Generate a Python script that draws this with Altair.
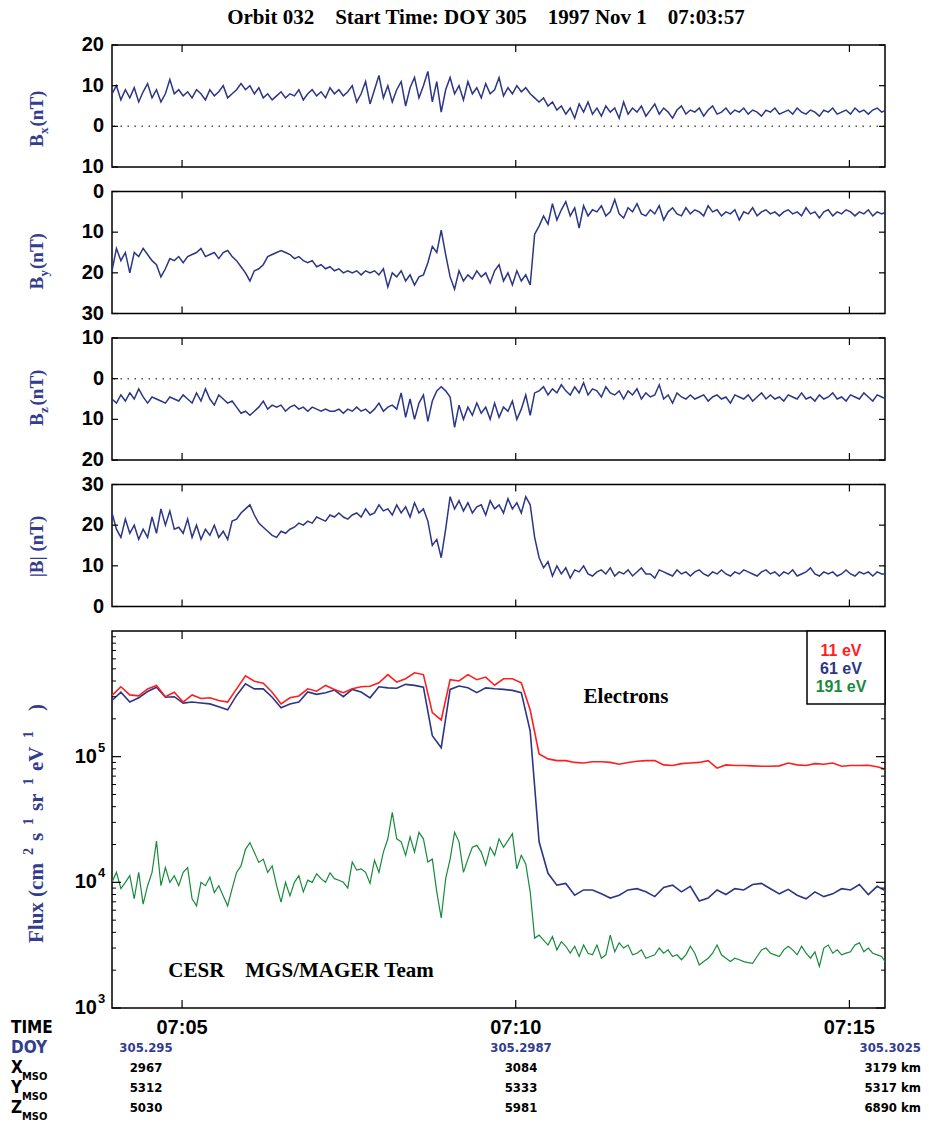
import altair as alt
import pandas as pd

# ---------------- data ----------------
T0 = 237            # first sample, seconds after 07:00:00 (07:03:57)
MAG_STEP = 4        # s
FLUX_LO_STEP = 8    # s (11 eV, 61 eV)
FLUX_HI_STEP = 4    # s (191 eV)
X_DOMAIN = [237, 932]
TIME_TICKS = [300, 600, 900]
TIME_LABELS = ["07:05", "07:10", "07:15"]

BX = [8, 10, 6.5, 9, 7, 9.5, 6, 8.5, 10.5, 7,
      9, 6, 8, 11.5, 8, 9, 7.5, 8.5, 7, 9,
      8, 6.5, 9, 7.5, 8.5, 10, 7, 8, 9, 10.5,
      9, 10, 8, 9.5, 7, 8, 6.5, 7.5, 8.5, 7,
      8, 7.5, 9, 6.5, 8, 9, 7.5, 8.5, 7, 9.5,
      8, 9, 7.5, 8.5, 10, 6, 8, 11, 5.5, 9,
      12.5, 7, 10, 6, 9, 11, 5, 9.5, 12, 7,
      10, 13.5, 6, 11, 3.5, 9, 12, 8, 10, 6.5,
      11, 8, 9.5, 7, 10.5, 8, 9, 12, 7.5, 9.5,
      8, 10, 8.5, 9.5, 8, 7, 6, 7, 5, 6,
      4, 5, 3, 4.5, 2, 5.5, 3.5, 6, 3, 4.5,
      2.5, 5, 3.5, 4.5, 2, 6, 3, 4.5, 3.5, 5,
      2.5, 4, 5.5, 3, 4.5, 3.5, 2, 4, 5, 3,
      4, 3.5, 4.5, 2.5, 4, 5, 3, 3.5, 4.5, 3,
      4, 3.5, 4.5, 3, 4, 3.5, 2.5, 4, 3.5, 4.5,
      3, 3.5, 4, 3, 4.5, 3.5, 3, 4, 3.5, 2.5,
      4, 3.5, 4.5, 3, 3.5, 4, 3, 4.5, 3.5, 4,
      3, 4, 4.5, 3.5, 4, 4]

BY = [-19.5, -14, -17, -15, -20, -15, -16, -14, -15.5, -17,
      -18, -21, -19, -16.5, -17, -16, -17.5, -16, -15.5, -15,
      -14, -16, -15.5, -15, -16.5, -15, -14.5, -16, -17, -18.5,
      -20, -22, -19.5, -19, -18, -16, -15.5, -15, -14.5, -15,
      -15.5, -16.5, -16, -17, -17.5, -17, -18.5, -18, -19, -18.5,
      -19.5, -19, -20, -19.5, -20, -19.5, -20.5, -19.5, -20, -19.5,
      -20.5, -19, -23.5, -20, -21, -19.5, -22, -20.5, -23, -21,
      -20.5, -17.5, -13.5, -15, -9.5, -15.5, -21, -24, -19.5, -22,
      -20.5, -21.5, -19.5, -21, -20, -22.5, -19.5, -18, -22, -20,
      -23, -19.5, -22, -20.5, -23, -10.5, -8.5, -6, -8, -3,
      -7, -4.5, -2.5, -6, -4, -9, -3.5, -6, -4.5, -5,
      -3.5, -6, -5, -2, -5.5, -6.5, -4, -5, -3, -5.5,
      -6, -4.5, -5.5, -3.5, -7, -5, -4, -5.5, -6, -4,
      -5.5, -4.5, -5, -6, -3.5, -5, -4.5, -6, -5, -5.5,
      -4.5, -7, -5, -5.5, -4, -6, -5, -4.5, -5.5, -5,
      -6, -5, -4.5, -5.5, -5, -6, -4, -5.5, -5, -6.5,
      -5, -4.5, -6, -5, -5.5, -4.5, -5, -6, -5, -5.5,
      -4.5, -6, -5, -5.5, -5, -6]

BZ = [-5, -6, -4, -5.5, -3.5, -5, -2.5, -4.5, -6, -4.5,
      -5, -5.5, -6, -4.5, -5, -5.5, -4, -5, -6, -3.5,
      -5.5, -2.5, -5, -6.5, -4, -5, -6, -5.5, -7, -8.5,
      -8, -9, -8, -7, -5.5, -7.5, -6.5, -7, -6.5, -8,
      -7, -6.5, -7.5, -7, -8, -7, -7.5, -8, -7.5, -8,
      -8, -7.5, -8.5, -7.5, -8, -7, -8, -7.5, -8.5, -7.5,
      -6, -8, -7, -6.5, -7.5, -3.5, -9.5, -5, -10, -6,
      -4, -10.5, -5.5, -3, -2, -3, -4.5, -12, -6.5, -10,
      -7, -9, -6, -8.5, -7, -10, -6, -9.5, -7, -8,
      -5.5, -10, -7.5, -4, -9, -3.5, -3, -2, -4, -2.5,
      -3.5, -1.5, -3, -4, -2, -3.5, -1, -4, -2.5, -3,
      -4.5, -2, -3.5, -4, -3, -5, -3, -4, -2.5, -5,
      -3.5, -4.5, -4, -1.5, -5, -4, -6, -3.5, -4.5, -5,
      -4, -5, -4.5, -4, -5.5, -4.5, -4, -5, -4.5, -6,
      -4, -4.5, -5, -4, -5.5, -4.5, -3.5, -5, -4, -5,
      -4.5, -5.5, -4, -4.5, -5, -3.5, -5, -4.5, -5.5, -4,
      -5, -4.5, -3.5, -5, -4.5, -5.5, -4, -4.5, -5, -3.5,
      -4.5, -5.5, -4, -4.5, -5, -4]

BTOT = [23, 19, 17, 21.5, 18, 20, 16.5, 19, 17, 22,
        18, 24, 20, 23.5, 19, 19.5, 18, 21.5, 17, 20,
        16.5, 19, 17.5, 20, 17, 18.5, 16.5, 21, 21.5, 23,
        24, 25, 22.5, 20.5, 19.5, 18.5, 17.5, 17, 18.5, 18,
        19, 19.5, 20.5, 20, 21, 20.5, 22, 21.5, 21, 22.5,
        22, 23, 22, 21.5, 22.5, 23, 22, 24, 22.5, 23,
        25, 23.5, 24, 22.5, 25, 23, 24.5, 22, 25.5, 23,
        24, 21, 15, 16.5, 12, 19, 27, 24, 26, 23.5,
        25.5, 23, 24.5, 25, 22.5, 26, 24, 25, 23, 26.5,
        24, 25.5, 23, 27, 25, 17, 12, 9.5, 11, 7.5,
        10, 8, 9.5, 7, 9, 8.5, 10, 8, 7.5, 8.5,
        9, 8, 9.5, 7.5, 8.5, 8, 9, 7.5, 8.5, 9.5,
        8, 8, 7, 9, 8.5, 8, 7.5, 9, 8, 8.5,
        7.5, 8.5, 9, 8, 7.5, 8.5, 8, 9, 8, 7.5,
        8.5, 8, 9, 8.5, 8, 7.5, 8.5, 9, 8, 8.5,
        7.5, 8.5, 8, 9, 7.5, 8, 8.5, 9.5, 8, 7.5,
        8.5, 8, 8.5, 7.5, 8, 9, 8, 7.5, 8.5, 8,
        8.5, 7.5, 8.5, 8, 8, 8]

FLUX_11 = [3.07e5, 3.6e5, 3.1e5, 3.05e5, 3.46e5, 3.68e5, 3.0e5, 3.26e5, 2.72e5, 3.1e5,
           2.9e5, 2.94e5, 2.8e5, 2.72e5, 3.46e5, 4.4e5, 3.98e5, 3.84e5, 3.26e5, 2.63e5,
           2.94e5, 3.04e5, 3.47e5, 3.32e5, 3.69e5, 3.43e5, 3.23e5, 3.47e5, 3.6e5, 3.63e5,
           3.87e5, 4.5e5, 3.92e5, 4.17e5, 4.65e5, 4.5e5, 2.24e5, 1.96e5, 4.1e5, 4.0e5,
           4.5e5, 4.1e5, 4.3e5, 3.7e5, 4.17e5, 4.17e5, 3.87e5, 2.35e5, 1.05e5, 9.6e4,
           9.3e4, 9.3e4, 9.0e4, 8.9e4, 9.1e4, 9.1e4, 9.0e4, 8.7e4, 9.0e4, 9.2e4,
           9.3e4, 9.3e4, 8.6e4, 8.5e4, 8.8e4, 8.9e4, 9.0e4, 9.3e4, 8.1e4, 8.6e4,
           8.5e4, 8.5e4, 8.45e4, 8.4e4, 8.4e4, 8.45e4, 8.9e4, 8.6e4, 8.5e4, 8.8e4,
           8.7e4, 8.9e4, 8.4e4, 8.5e4, 8.5e4, 8.55e4, 8.3e4, 7.9e4]

FLUX_61 = [2.8e5, 3.26e5, 2.72e5, 2.94e5, 3.3e5, 3.57e5, 2.97e5, 3.0e5, 2.67e5, 2.72e5,
           2.67e5, 2.63e5, 2.5e5, 2.36e5, 3.07e5, 3.8e5, 3.46e5, 3.46e5, 2.97e5, 2.45e5,
           2.63e5, 2.72e5, 3.27e5, 3.13e5, 3.23e5, 3.39e5, 3.0e5, 3.43e5, 3.27e5, 2.94e5,
           3.6e5, 3.53e5, 3.5e5, 3.76e5, 3.69e5, 3.57e5, 1.47e5, 1.18e5, 3.43e5, 3.65e5,
           3.53e5, 3.23e5, 3.53e5, 3.47e5, 3.43e5, 3.37e5, 3.23e5, 1.6e5, 2.1e4, 1.18e4,
           9.5e3, 9.8e3, 7.9e3, 8.7e3, 8.7e3, 8.1e3, 7.5e3, 7.9e3, 8.7e3, 8.9e3,
           8.4e3, 7.7e3, 9.1e3, 9.5e3, 8.4e3, 9.3e3, 7.1e3, 7.5e3, 8.7e3, 8.0e3,
           8.9e3, 8.7e3, 9.6e3, 9.8e3, 8.9e3, 8.1e3, 8.8e3, 7.9e3, 7.4e3, 8.4e3,
           7.7e3, 8.1e3, 8.9e3, 8.7e3, 9.6e3, 8.0e3, 9.3e3, 8.5e3]

FLUX_191 = [1.0e4, 1.2e4, 8.9e3, 1.0e4, 1.13e4, 7.4e3, 1.2e4, 6.7e3, 9.4e3, 1.2e4,
            2.13e4, 9.4e3, 1.31e4, 1.0e4, 1.13e4, 9.4e3, 1.2e4, 1.31e4, 7.4e3, 6.5e3,
            1.0e4, 9.4e3, 1.1e4, 8.3e3, 9.4e3, 7.8e3, 6.5e3, 8.9e3, 1.2e4, 1.35e4,
            1.83e4, 2.07e4, 1.73e4, 1.44e4, 1.53e4, 1.2e4, 1.35e4, 9.4e3, 6.95e3, 1.0e4,
            7.8e3, 1.0e4, 1.13e4, 8.4e3, 1.04e4, 1.0e4, 1.17e4, 1.07e4, 1.0e4, 1.19e4,
            1.07e4, 1.04e4, 1.0e4, 9.0e3, 1.45e4, 1.25e4, 1.28e4, 1.2e4, 9.8e3, 1.5e4,
            1.2e4, 1.74e4, 2.22e4, 3.6e4, 2.22e4, 2.1e4, 1.64e4, 2.3e4, 1.74e4, 2.5e4,
            2.22e4, 1.45e4, 1.53e4, 8.4e3, 5.2e3, 1.07e4, 1.53e4, 2.5e4, 2.1e4, 1.2e4,
            1.53e4, 1.9e4, 1.97e4, 1.74e4, 1.37e4, 1.9e4, 1.64e4, 2.22e4, 1.9e4, 2.15e4,
            2.44e4, 1.28e4, 1.64e4, 1.4e4, 8.4e3, 3.6e3, 3.8e3, 3.47e3, 3.17e3, 3.7e3,
            2.9e3, 3.37e3, 3.1e3, 2.73e3, 3.1e3, 2.57e3, 3.17e3, 2.73e3, 2.65e3, 3.17e3,
            2.49e3, 2.65e3, 3.8e3, 2.8e3, 3.3e3, 3.0e3, 3.17e3, 2.65e3, 2.73e3, 2.9e3,
            2.49e3, 2.57e3, 2.65e3, 3.0e3, 2.73e3, 2.9e3, 2.57e3, 2.65e3, 2.42e3, 2.65e3,
            3.1e3, 2.73e3, 2.2e3, 2.34e3, 2.49e3, 2.73e3, 3.17e3, 2.65e3, 2.49e3, 2.34e3,
            2.49e3, 2.42e3, 2.34e3, 2.3e3, 2.27e3, 2.57e3, 2.9e3, 3.0e3, 2.73e3, 2.65e3,
            2.57e3, 2.9e3, 3.1e3, 2.9e3, 2.65e3, 3.1e3, 2.73e3, 2.49e3, 2.8e3, 2.14e3,
            3.0e3, 3.17e3, 2.73e3, 2.9e3, 2.65e3, 2.73e3, 2.8e3, 3.17e3, 3.3e3, 2.8e3,
            3.0e3, 2.73e3, 2.65e3, 2.57e3, 2.27e3, 2.34e3]

BANDS = ["11 eV", "61 eV", "191 eV"]

BX_TICKS = [-10, 0, 10, 20]
BX_LABELS = ["10", "0", "10", "20"]
BY_TICKS = [-30, -20, -10, 0]
BY_LABELS = ["30", "20", "10", "0"]
BZ_TICKS = [-20, -10, 0, 10]
BZ_LABELS = ["20", "10", "0", "10"]
BT_TICKS = [0, 10, 20, 30]
BT_LABELS = ["0", "10", "20", "30"]

FLUX_TICKS = [1e3, 1e4, 1e5]
FLUX_EXP = ["3", "4", "5"]
FLUX_MINOR = [m * d for d in (1e3, 1e4, 1e5) for m in range(2, 10)]

DOY_VALUES = ["305.295", "305.2987", "305.3025"]
X_MSO = ["2967", "3084", "3179 km"]
Y_MSO = ["5312", "5333", "5317 km"]
Z_MSO = ["5030", "5981", "6890 km"]

NB = "\u00a0"
TITLE = f"Orbit 032{NB*4}Start Time: DOY 305{NB*4}1997 Nov 1{NB*4}07:03:57"
# flux axis title pieces: (text, is_superscript, start position along the axis, bottom-up)
FLUX_TITLE_PARTS = [(f"Flux{NB}(cm", False, 312), ("2", True, 224), ("s", False, 210),
                    ("1", True, 194), ("sr", False, 180), ("1", True, 154),
                    ("eV", False, 140), ("1", True, 107), (")", False, 80)]

# ---------------- style ----------------
W = 773
H_MAG = 122
H_FLUX = 377
NAVY = "#2b3686"
LABEL_BLUE = "#333d8f"
RED = "#ff1e1e"
GREEN = "#188a3c"
SERIF = "Liberation Serif"
SANS = "Liberation Sans"
NARROW = "Liberation Sans Narrow, DejaVu Sans Condensed, Liberation Sans"

one = pd.DataFrame({"a": [0]})
xscale = alt.Scale(domain=X_DOMAIN, nice=False, zero=False)


def txt(text, x, y, size, font=SERIF, color="black", align="center",
        baseline="middle", angle=0, weight="bold"):
    kw = dict(text=text, fontSize=size, font=font, color=color, align=align,
              baseline=baseline, fontWeight=weight)
    if angle:
        kw["angle"] = angle
    return alt.Chart(one).mark_text(**kw).encode(x=alt.value(x), y=alt.value(y))


def xticks(h, length=7):
    d = pd.DataFrame({"t": TIME_TICKS})
    base = alt.Chart(d).mark_rule(color="black", strokeWidth=1.2)
    top = base.encode(x=alt.X("t:Q", scale=xscale, axis=None),
                      y=alt.value(0), y2=alt.value(length))
    bot = base.encode(x=alt.X("t:Q", scale=xscale, axis=None),
                      y=alt.value(h - length), y2=alt.value(h))
    return [top, bot]


def yticks(vals, yscale, length=6, width=1.2):
    d = pd.DataFrame({"v": vals})
    base = alt.Chart(d).mark_rule(color="black", strokeWidth=width)
    left = base.encode(y=alt.Y("v:Q", scale=yscale, axis=None),
                       x=alt.value(0), x2=alt.value(length))
    right = base.encode(y=alt.Y("v:Q", scale=yscale, axis=None),
                        x=alt.value(W - length), x2=alt.value(W))
    return [left, right]


def ylabels(vals, labels, yscale):
    d = pd.DataFrame({"v": vals, "lab": labels})
    return alt.Chart(d).mark_text(font=SANS, fontWeight="bold", fontSize=20, align="right",
                                  baseline="middle", color="black").encode(
        x=alt.value(-8), y=alt.Y("v:Q", scale=yscale, axis=None), text="lab:N")


def rot_title(sub, yc, xc=-75):
    # "B", subscript, " (nT)" written bottom-to-top
    total = 13 + 7 + 40
    y0 = yc + total / 2
    layers = [txt("B", xc, y0, 19, color=LABEL_BLUE, align="left", angle=270)]
    if sub:
        layers.append(txt(sub, xc + 7, y0 - 13, 13, color=LABEL_BLUE, align="left", angle=270))
    layers.append(txt(NB + "(nT)", xc, y0 - 20.5, 19, color=LABEL_BLUE, align="left", angle=270))
    return layers


def mag_panel(values, domain, ticks, labels, zero, title_layers, extra=None):
    df = pd.DataFrame({"t": [T0 + MAG_STEP * i for i in range(len(values))], "v": values})
    yscale = alt.Scale(domain=domain, nice=False, zero=False)
    line = alt.Chart(df).mark_line(color=NAVY, strokeWidth=1.5, clip=True).encode(
        x=alt.X("t:Q", scale=xscale, axis=None),
        y=alt.Y("v:Q", scale=yscale, axis=None),
    )
    layers = []
    if zero:
        layers.append(alt.Chart(pd.DataFrame({"v": [0]})).mark_rule(
            color="#555555", strokeDash=[1.5, 5.5], strokeWidth=1.5).encode(
            y=alt.Y("v:Q", scale=yscale, axis=None)))
    layers.append(line)
    layers += xticks(H_MAG) + yticks(ticks, yscale)
    layers.append(ylabels(ticks, labels, yscale))
    layers += title_layers
    if extra:
        layers += extra
    return alt.layer(*layers).properties(width=W, height=H_MAG)


bx = mag_panel(BX, [-10, 20], BX_TICKS, BX_LABELS, True, rot_title("x", 72),
               extra=[txt(TITLE, 374, -27, 21)])
by = mag_panel(BY, [-30, 0], BY_TICKS, BY_LABELS, False, rot_title("y", 68))
bz = mag_panel(BZ, [-20, 10], BZ_TICKS, BZ_LABELS, True, rot_title("z", 58))
bt = mag_panel(BTOT, [0, 30], BT_TICKS, BT_LABELS, False,
               [txt(f"|B|{NB}(nT)", -75, 62, 19, color=LABEL_BLUE, angle=270)])

# ---------------- flux panel ----------------
fscale = alt.Scale(type="log", domain=[1e3, 1e6], nice=False)


def flux_line(vals, step, color, width):
    df = pd.DataFrame({"t": [T0 + step * i for i in range(len(vals))], "f": vals})
    return alt.Chart(df).mark_line(color=color, strokeWidth=width, clip=True).encode(
        x=alt.X("t:Q", scale=xscale, axis=None),
        y=alt.Y("f:Q", scale=fscale, axis=None),
    )


flayers = [
    flux_line(FLUX_191, FLUX_HI_STEP, GREEN, 1.2),
    flux_line(FLUX_61, FLUX_LO_STEP, NAVY, 1.6),
    flux_line(FLUX_11, FLUX_LO_STEP, RED, 1.6),
]
flayers += xticks(H_FLUX, 8)
flayers += yticks(FLUX_TICKS, fscale, 9)
flayers += yticks(FLUX_MINOR, fscale, 4, 1)

lab_df = pd.DataFrame({"v": FLUX_TICKS, "e": FLUX_EXP})
flayers.append(alt.Chart(lab_df).mark_text(
    text="10", font=SANS, fontWeight="bold", fontSize=20, align="right", baseline="middle"
).encode(x=alt.value(-15), y=alt.Y("v:Q", scale=fscale, axis=None)))
flayers.append(alt.Chart(lab_df).mark_text(
    font=SANS, fontWeight="bold", fontSize=13, align="left", baseline="middle", dy=-9
).encode(x=alt.value(-14), y=alt.Y("v:Q", scale=fscale, axis=None), text="e:N"))

# time labels under the flux panel
tl_df = pd.DataFrame({"t": TIME_TICKS, "lab": TIME_LABELS})
flayers.append(alt.Chart(tl_df).mark_text(
    font=SANS, fontWeight="bold", fontSize=20, align="center", baseline="middle"
).encode(x=alt.X("t:Q", scale=xscale, axis=None), y=alt.value(H_FLUX + 20), text="lab:N"))

# rotated flux axis title with superscripts
for part, sup, pos in FLUX_TITLE_PARTS:
    if sup:
        flayers.append(txt(part, -83, pos, 14, color=LABEL_BLUE, align="left", angle=270))
    else:
        flayers.append(txt(part, -75, pos, 21, color=LABEL_BLUE, align="left", angle=270))

flayers.append(txt("Electrons", 514, 66, 21))
flayers.append(txt(f"CESR{NB*4}MGS/MAGER Team", 189, 340, 21))

# legend box
flayers.append(alt.Chart(one).mark_rect(fill="white", stroke="black", strokeWidth=1.5).encode(
    x=alt.value(W - 78), x2=alt.value(W), y=alt.value(0), y2=alt.value(73)))
for name, col, yy in zip(BANDS, [RED, NAVY, GREEN], [20, 38, 56]):
    flayers.append(txt(name, W - 44, yy, 16, font=SANS, color=col))

# bottom table
flayers.append(txt("TIME", -101, H_FLUX + 20, 17, font=NARROW, align="left"))
flayers.append(txt("DOY", -101, H_FLUX + 40, 17, font=NARROW, color=LABEL_BLUE, align="left"))
for k, nm in enumerate(["X", "Y", "Z"]):
    yy = H_FLUX + 60 + 20 * k
    flayers.append(txt(nm, -101, yy, 17, font=NARROW, align="left"))
    flayers.append(txt("MSO", -90, yy + 9, 11, font=NARROW, align="left"))

col_x = [34, 409, 809]
col_align = ["center", "center", "right"]
for r, (row_vals, color) in enumerate(zip([DOY_VALUES, X_MSO, Y_MSO, Z_MSO],
                                          [LABEL_BLUE, "black", "black", "black"])):
    for c, v in enumerate(row_vals):
        flayers.append(txt(v, col_x[c], H_FLUX + 40 + 20 * r, 13, font=NARROW,
                           color=color, align=col_align[c]))

flux = alt.layer(*flayers).properties(width=W, height=H_FLUX)

chart = alt.vconcat(bx, by, bz, bt, flux, spacing=24.5, bounds="flush").properties(
    padding={"left": 10, "top": 6, "right": 4, "bottom": 2},
    background="white",
).configure_view(
    stroke="black", strokeWidth=1.5
)

chart.save("out.html", embed_options={"renderer": "svg", "actions": False})
